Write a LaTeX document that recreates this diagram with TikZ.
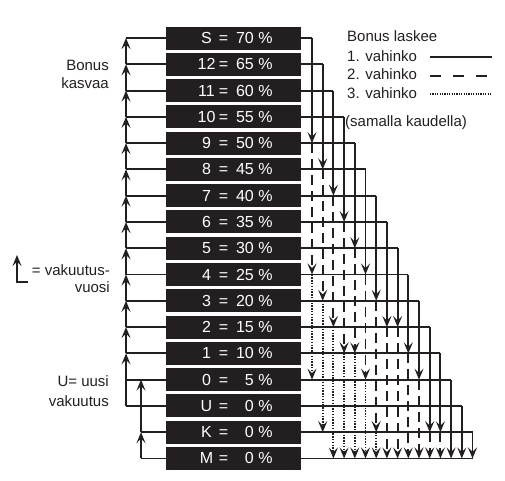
\documentclass[tikz,border=0pt]{standalone}
\usepackage{fontspec}
\setmainfont{Liberation Sans}
\usetikzlibrary{arrows.meta}
\definecolor{ink}{HTML}{231F20}
\tikzset{
  box/.style={fill=ink, text=white, minimum width=135pt, minimum height=23pt, inner sep=0pt,
    font=\fontsize{16}{18}\selectfont},
  lab/.style={inner sep=0pt, text=ink, font=\fontsize{15}{18}\selectfont},
  ln/.style={line width=1.9pt, draw=ink},
  dsh/.style={dash pattern=on 10pt off 6pt},
  dtt/.style={dash pattern=on 1.4pt off 1.4pt},
  >={Stealth[length=11pt,width=9pt,inset=4.5pt]}
}
\begin{document}
\begin{tikzpicture}[x=1pt,y=-1pt]
\useasboundingbox (0,0) rectangle (505,480);
% class boxes
\foreach \lab/\pct [count=\i from 0] in {S/70,12/65,11/60,10/55,9/50,8/45,7/40,6/35,5/30,4/25,3/20,2/15,1/10,0/5,U/0,K/0,M/0}{
  \node[box] (r\i) at (233.5,{38+26.28*\i}) {\makebox[24pt]{\lab}\makebox[10pt]{=}\makebox[44pt][r]{\pct\ \%}};
}
% right side corners
\foreach \i in {0,...,15}{
  \coordinate (h\i) at ({312+10.7*\i},{38+26.28*\i});
  \draw[ln] (r\i.east) -- (h\i);
}
\draw[ln] (r16.east) -- (h15 |- r16.center);
% 1st claim (solid)
\foreach \c/\a/\b in {0/0/4,1/1/5,2/2/6,3/3/7,4/4/8,5/5/9,6/6/10,7/7/11,8/8/11,9/9/12,10/10/13,11/11/15,12/12/15,13/13/16,14/14/16,15/15/16}{
  \draw[ln,->] (h\c |- r\a.center) -- (h\c |- r\b.center);
}
% 2nd claim (dashed)
\foreach \c/\a/\b in {0/4/9,1/5/10,2/6/11,3/7/12,4/8/12,5/9/13,6/10/15,7/11/16,8/11/16,9/12/16,10/13/16,11/15/16,12/15/16}{
  \draw[ln,dsh,->] (h\c |- r\a.center) -- (h\c |- r\b.center);
}
% 3rd claim (dotted)
\foreach \c/\a/\b in {0/9/13,1/10/15,2/11/16,3/12/16,4/12/16,5/13/16,6/15/16}{
  \draw[ln,dtt,->] (h\c |- r\a.center) -- (h\c |- r\b.center);
}
% left side: insurance years
\foreach \i in {0,...,14}{
  \coordinate (L\i) at (126,{38+26.28*\i});
  \draw[ln] (L\i) -- (r\i.west);
}
\foreach \i in {0,...,11}{
  \pgfmathtruncatemacro{\j}{\i+1}
  \draw[ln,->] (L\j) -- (L\i);
}
\draw[ln,->] (L14) -- (L12);
\coordinate (Ix) at (141,0);
\draw[ln] (Ix |- r15.center) -- (r15.west);
\draw[ln] (Ix |- r16.center) -- (r16.west);
\draw[ln,->] (Ix |- r16.center) -- (Ix |- r15.center);
\draw[ln,->] (Ix |- r15.center) -- (Ix |- r13.center);
% left labels
\node[lab, anchor=base east] (t1) at (109,70) {Bonus};
\node[lab, anchor=base east] (t2) at (109,88.3) {kasvaa};
\node[lab, anchor=base east] (t3) at (110,275) {= vakuutus-};
\node[lab, anchor=base east] (t4) at (110,292.7) {vuosi};
\node[lab, anchor=base east] (t5) at (109,386.7) {U= uusi};
\node[lab, anchor=base east] (t6) at (109,406.7) {vakuutus};
\coordinate (ka) at (28,282);
\coordinate (kb) at (17,282);
\coordinate (kc) at (17,255);
\draw[ln,->] (ka) -- (kb) -- (kc);
% right legend
\node[lab, anchor=base west] (g0) at (347,41.7) {Bonus laskee};
\node[lab, anchor=base west] (g1) at (347,61) {1. vahinko};
\node[lab, anchor=base west] (g2) at (347,79.3) {2. vahinko};
\node[lab, anchor=base west] (g3) at (347,98.3) {3. vahinko};
\node[lab, anchor=base west] (g4) at (345,126) {(samalla kaudella)};
\coordinate (s1a) at (430,57.3);
\coordinate (s1b) at (492,57.3);
\coordinate (s2a) at (430,76);
\coordinate (s2b) at (492,76);
\coordinate (s3a) at (430,94);
\coordinate (s3b) at (492,94);
\draw[ln] (s1a) -- (s1b);
\draw[ln,dash pattern=on 11pt off 12pt] (s2a) -- (s2b);
\draw[ln,line width=1.3pt,dash pattern=on 1.2pt off 1.2pt] (s3a) -- (s3b);
\end{tikzpicture}
\end{document}
